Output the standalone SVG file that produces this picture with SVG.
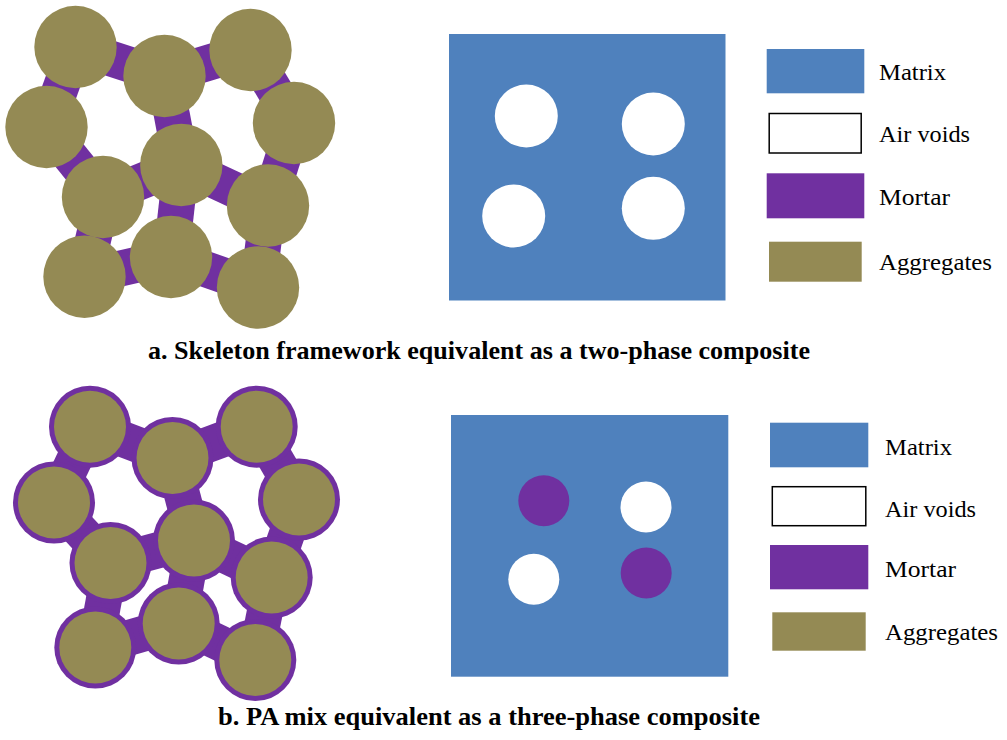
<svg xmlns="http://www.w3.org/2000/svg" width="1007" height="740" viewBox="0 0 1007 740">
  <defs>
    <style>
      .agg { fill: #948A54; }
      .mortar { fill: #7030A0; }
      .bond { stroke: #7030A0; stroke-width: 36; stroke-linecap: butt; fill: none; }
      .matrix { fill: #4F81BD; }
      .void { fill: #FFFFFF; }
      .key-void { fill: #FFFFFF; stroke: #000000; stroke-width: 1.5; }
      .label { font-family: "Liberation Serif", "Times New Roman", serif; font-size: 23.5px; fill: #000000; }
      .caption { font-family: "Liberation Serif", "Times New Roman", serif; font-size: 25px; font-weight: bold; fill: #000000; }
    </style>
  </defs>
  <rect width="1007" height="740" fill="#FFFFFF"/>

  <!-- (a) skeleton: mortar bonds between aggregates -->
  <g id="connectors-a">
    <line class="bond" x1="75.5" y1="47" x2="164.5" y2="76"/>
    <line class="bond" x1="164.5" y1="76" x2="250.5" y2="50"/>
    <line class="bond" x1="75.5" y1="47" x2="46.5" y2="127"/>
    <line class="bond" x1="250.5" y1="50" x2="294" y2="123"/>
    <line class="bond" x1="164.5" y1="76" x2="181.3" y2="165"/>
    <line class="bond" x1="46.5" y1="127" x2="103" y2="197"/>
    <line class="bond" x1="103" y1="197" x2="181.3" y2="165"/>
    <line class="bond" x1="181.3" y1="165" x2="268" y2="205.5"/>
    <line class="bond" x1="294" y1="123" x2="268" y2="205.5"/>
    <line class="bond" x1="181.3" y1="165" x2="171" y2="257"/>
    <line class="bond" x1="103" y1="197" x2="84.5" y2="276.7"/>
    <line class="bond" x1="84.5" y1="276.7" x2="171" y2="257"/>
    <line class="bond" x1="171" y1="257" x2="258" y2="287.5"/>
    <line class="bond" x1="268" y1="205.5" x2="258" y2="287.5"/>
  </g>
  <g id="aggregates-a">
    <circle class="agg" cx="75.5" cy="47" r="41.2"/>
    <circle class="agg" cx="164.5" cy="76" r="41.2"/>
    <circle class="agg" cx="250.5" cy="50" r="41.2"/>
    <circle class="agg" cx="46.5" cy="127" r="41.2"/>
    <circle class="agg" cx="294" cy="123" r="41.2"/>
    <circle class="agg" cx="181.3" cy="165" r="41.2"/>
    <circle class="agg" cx="103" cy="197" r="41.2"/>
    <circle class="agg" cx="268" cy="205.5" r="41.2"/>
    <circle class="agg" cx="84.5" cy="276.7" r="41.2"/>
    <circle class="agg" cx="171" cy="257" r="41.2"/>
    <circle class="agg" cx="258" cy="287.5" r="41.2"/>
  </g>

  <!-- (a) two-phase equivalent -->
  <g id="composite-a">
    <rect class="matrix" x="449" y="34" width="276.5" height="266.5"/>
    <circle class="void" cx="526.3" cy="116" r="31.5"/>
    <circle class="void" cx="653.3" cy="124" r="31.5"/>
    <circle class="void" cx="513.7" cy="216" r="31.5"/>
    <circle class="void" cx="653.3" cy="208.3" r="31.5"/>
  </g>

  <g id="legend-a">
    <rect class="matrix" x="766.7" y="49" width="97.6" height="44.3"/>
    <text class="label" x="879" y="80" textLength="67" lengthAdjust="spacingAndGlyphs">Matrix</text>
    <rect class="key-void" x="769.2" y="113.5" width="92" height="39.5"/>
    <text class="label" x="879" y="141.5" textLength="91" lengthAdjust="spacingAndGlyphs">Air voids</text>
    <rect class="mortar" x="766.7" y="173.3" width="97.6" height="45"/>
    <text class="label" x="879" y="205" textLength="71" lengthAdjust="spacingAndGlyphs">Mortar</text>
    <rect class="agg" x="769" y="241.7" width="92.7" height="40"/>
    <text class="label" x="879" y="270" textLength="113" lengthAdjust="spacingAndGlyphs">Aggregates</text>
  </g>

  <text id="caption-a" class="caption" x="148" y="359" textLength="662" lengthAdjust="spacingAndGlyphs">a. Skeleton framework equivalent as a two-phase composite</text>

  <!-- (b) PA mix: coated aggregates with mortar bonds -->
  <g id="connectors-b">
    <line class="bond" x1="90" y1="426.7" x2="172.5" y2="458"/>
    <line class="bond" x1="172.5" y1="458" x2="256.7" y2="426.7"/>
    <line class="bond" x1="90" y1="426.7" x2="54" y2="502.5"/>
    <line class="bond" x1="256.7" y1="426.7" x2="299" y2="499.5"/>
    <line class="bond" x1="172.5" y1="458" x2="194" y2="540.5"/>
    <line class="bond" x1="54" y1="502.5" x2="110.5" y2="563"/>
    <line class="bond" x1="110.5" y1="563" x2="194" y2="540.5"/>
    <line class="bond" x1="194" y1="540.5" x2="271.7" y2="577.5"/>
    <line class="bond" x1="299" y1="499.5" x2="271.7" y2="577.5"/>
    <line class="bond" x1="194" y1="540.5" x2="178.7" y2="623.5"/>
    <line class="bond" x1="110.5" y1="563" x2="95.3" y2="647.5"/>
    <line class="bond" x1="95.3" y1="647.5" x2="178.7" y2="623.5"/>
    <line class="bond" x1="178.7" y1="623.5" x2="255.3" y2="660"/>
    <line class="bond" x1="271.7" y1="577.5" x2="255.3" y2="660"/>
  </g>
  <g id="aggregates-b">
    <g id="agg-b1"><circle class="mortar" cx="90" cy="426.7" r="41"/><circle class="agg" cx="90" cy="426.7" r="36"/></g>
    <g id="agg-b2"><circle class="mortar" cx="172.5" cy="458" r="41"/><circle class="agg" cx="172.5" cy="458" r="36"/></g>
    <g id="agg-b3"><circle class="mortar" cx="256.7" cy="426.7" r="41"/><circle class="agg" cx="256.7" cy="426.7" r="36"/></g>
    <g id="agg-b4"><circle class="mortar" cx="54" cy="502.5" r="41"/><circle class="agg" cx="54" cy="502.5" r="36"/></g>
    <g id="agg-b5"><circle class="mortar" cx="299" cy="499.5" r="41"/><circle class="agg" cx="299" cy="499.5" r="36"/></g>
    <g id="agg-b6"><circle class="mortar" cx="194" cy="540.5" r="41"/><circle class="agg" cx="194" cy="540.5" r="36"/></g>
    <g id="agg-b7"><circle class="mortar" cx="110.5" cy="563" r="41"/><circle class="agg" cx="110.5" cy="563" r="36"/></g>
    <g id="agg-b8"><circle class="mortar" cx="271.7" cy="577.5" r="41"/><circle class="agg" cx="271.7" cy="577.5" r="36"/></g>
    <g id="agg-b9"><circle class="mortar" cx="95.3" cy="647.5" r="41"/><circle class="agg" cx="95.3" cy="647.5" r="36"/></g>
    <g id="agg-b10"><circle class="mortar" cx="178.7" cy="623.5" r="41"/><circle class="agg" cx="178.7" cy="623.5" r="36"/></g>
    <g id="agg-b11"><circle class="mortar" cx="255.3" cy="660" r="41"/><circle class="agg" cx="255.3" cy="660" r="36"/></g>
  </g>

  <!-- (b) three-phase equivalent -->
  <g id="composite-b">
    <rect class="matrix" x="451" y="415" width="277.3" height="261.7"/>
    <circle class="mortar" cx="543.8" cy="500.8" r="25.5"/>
    <circle class="void" cx="646" cy="507" r="25.5"/>
    <circle class="void" cx="533.8" cy="579.2" r="25.5"/>
    <circle class="mortar" cx="646.2" cy="573" r="25.5"/>
  </g>

  <g id="legend-b">
    <rect class="matrix" x="770" y="422.7" width="98.3" height="44.6"/>
    <text class="label" x="885" y="455" textLength="67" lengthAdjust="spacingAndGlyphs">Matrix</text>
    <rect class="key-void" x="772.3" y="486.7" width="93.5" height="39"/>
    <text class="label" x="885" y="516.7" textLength="91" lengthAdjust="spacingAndGlyphs">Air voids</text>
    <rect class="mortar" x="770" y="545" width="98.3" height="44.3"/>
    <text class="label" x="885" y="576.7" textLength="71" lengthAdjust="spacingAndGlyphs">Mortar</text>
    <rect class="agg" x="772.3" y="612.3" width="93.4" height="38.4"/>
    <text class="label" x="885" y="640" textLength="113" lengthAdjust="spacingAndGlyphs">Aggregates</text>
  </g>

  <text id="caption-b" class="caption" x="218" y="725" textLength="542" lengthAdjust="spacingAndGlyphs">b. PA mix equivalent as a three-phase composite</text>
</svg>
